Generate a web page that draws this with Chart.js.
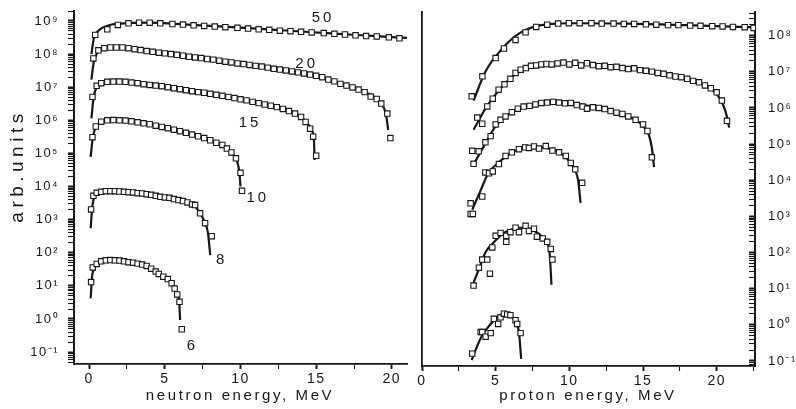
<!DOCTYPE html>
<html>
<head>
<meta charset="utf-8">
<script src="https://cdn.jsdelivr.net/npm/chart.js@4.4.1/dist/chart.umd.min.js"></script>
<style>
  html, body { margin: 0; padding: 0; background: #fff; }
  #wrap { position: relative; width: 796px; height: 409px; overflow: hidden; }
  #left { position: absolute; left: 0; top: 0; }
  #right { position: absolute; left: 415px; top: 0; }
</style>
</head>
<body>
<div id="wrap">
  <canvas id="left" width="420" height="409"></canvas>
  <canvas id="right" width="381" height="409"></canvas>
</div>
<script>
// neutron spectra, [MeV, arb.units] -- fit curves and measured points
const n50Fit = [[0.15,1.0e8],[0.3,2.8e8],[0.5,4.5e8],[0.9,6.3e8],[1.5,7.8e8],[2.5,8.6e8],[4,8.9e8],[6,8.0e8],[8,7.1e8],[10,6.3e8],[12,5.5e8],[14,4.8e8],[16,4.2e8],[18,3.7e8],[20,3.25e8],[21,3.1e8]];
const n50Pts = [[0.4,3.8e8],[1.2,5.6e8],[1.9,7.6e8],[2.6,8.5e8],[3.3,8.9e8],[4.0,8.9e8],[4.7,8.5e8],[5.5,8.1e8],[6.2,7.8e8],[6.9,7.4e8],[7.6,7.1e8],[8.3,6.8e8],[9.0,6.5e8],[9.8,6.2e8],[10.5,5.9e8],[11.2,5.6e8],[11.9,5.4e8],[12.6,5.1e8],[13.3,4.9e8],[14.0,4.7e8],[14.7,4.5e8],[15.5,4.3e8],[16.2,4.1e8],[16.9,3.9e8],[17.6,3.7e8],[18.3,3.5e8],[19.0,3.4e8],[19.8,3.2e8],[20.5,3.0e8]];

const n20Fit = [[0.15,1.7e7],[0.3,5.6e7],[0.5,1.0e8],[0.9,1.4e8],[1.5,1.58e8],[2.5,1.52e8],[4.7,1.1e8],[6.9,7.9e7],[9.1,5.9e7],[11.3,4.2e7],[13.5,3.0e7],[15.7,1.7e7],[16.8,1.2e7],[17.9,8.3e6],[18.8,5.2e6],[19.3,3.2e6],[19.6,1.6e6],[19.76,5.1e5]];
const n20Pts = [[0.28,7.4e7],[0.61,1.3e8],[1.0,1.51e8],[1.4,1.58e8],[1.8,1.58e8],[2.2,1.58e8],[2.6,1.51e8],[3.0,1.41e8],[3.4,1.32e8],[3.8,1.23e8],[4.2,1.17e8],[4.6,1.1e8],[5.0,1.05e8],[5.4,1.0e8],[5.8,9.5e7],[6.2,8.9e7],[6.6,8.3e7],[7.0,7.9e7],[7.4,7.6e7],[7.8,7.1e7],[8.2,6.8e7],[8.6,6.3e7],[9.0,5.9e7],[9.4,5.6e7],[9.8,5.2e7],[10.2,5.0e7],[10.6,4.7e7],[11.0,4.4e7],[11.4,4.2e7],[11.8,3.9e7],[12.2,3.6e7],[12.6,3.4e7],[13.0,3.2e7],[13.4,3.0e7],[13.8,2.8e7],[14.2,2.6e7],[14.6,2.4e7],[15.0,2.2e7],[15.4,2.0e7],[15.8,1.7e7],[16.2,1.5e7],[16.6,1.26e7],[17.0,1.12e7],[17.4,9.8e6],[17.8,8.5e6],[18.2,7.1e6],[18.6,5.2e6],[19.0,4.4e6],[19.3,3.2e6],[19.7,1.6e6],[19.9,2.9e5]];

const n15Fit = [[0.15,1.15e6],[0.3,5.0e6],[0.5,1.0e7],[0.9,1.38e7],[1.6,1.48e7],[2.5,1.45e7],[4.7,1.1e7],[6.9,7.4e6],[9.1,5.1e6],[11.3,3.2e6],[13.0,2.1e6],[13.9,1.35e6],[14.4,8.3e5],[14.7,5.0e5],[14.85,2.5e5],[14.9,6.3e4]];
const n15Pts = [[0.22,5.1e6],[0.5,1.1e7],[0.8,1.32e7],[1.2,1.45e7],[1.6,1.48e7],[2.0,1.48e7],[2.4,1.45e7],[2.8,1.38e7],[3.2,1.32e7],[3.6,1.23e7],[4.0,1.17e7],[4.4,1.12e7],[4.8,1.07e7],[5.2,1.0e7],[5.6,9.3e6],[6.0,8.7e6],[6.4,8.1e6],[6.8,7.6e6],[7.2,7.1e6],[7.6,6.8e6],[8.0,6.3e6],[8.4,5.9e6],[8.8,5.5e6],[9.2,5.1e6],[9.6,4.7e6],[10.0,4.3e6],[10.4,4.0e6],[10.8,3.6e6],[11.2,3.3e6],[11.6,3.0e6],[12.0,2.75e6],[12.4,2.5e6],[12.8,2.2e6],[13.2,1.9e6],[13.6,1.6e6],[14.0,1.26e6],[14.3,8.9e5],[14.6,5.6e5],[14.8,3.2e5],[15.0,8.5e4]];

const n10Fit = [[0.1,7.9e4],[0.25,3.2e5],[0.45,6.3e5],[0.8,9.1e5],[1.4,1.02e6],[2.5,9.8e5],[3.6,8.1e5],[4.7,6.5e5],[5.8,4.9e5],[6.9,3.6e5],[8.0,2.5e5],[8.65,1.9e5],[9.1,1.4e5],[9.5,9.5e4],[9.75,6.3e4],[9.92,2.8e4],[10.0,1.0e4]];
const n10Pts = [[0.22,3.1e5],[0.44,6.5e5],[0.8,9.1e5],[1.2,1.0e6],[1.6,1.02e6],[2.0,1.0e6],[2.4,9.8e5],[2.8,9.3e5],[3.2,8.7e5],[3.6,8.1e5],[4.0,7.6e5],[4.4,6.9e5],[4.8,6.3e5],[5.2,5.8e5],[5.6,5.2e5],[6.0,4.7e5],[6.4,4.2e5],[6.8,3.7e5],[7.2,3.3e5],[7.6,2.9e5],[8.0,2.5e5],[8.4,2.1e5],[8.8,1.8e5],[9.1,1.4e5],[9.4,1.07e5],[9.7,7.1e4],[10.0,2.6e4],[10.1,7.4e3]];

const n8Fit = [[0.1,550],[0.2,2240],[0.35,5000],[0.7,6760],[1.3,7240],[2.5,6900],[3.6,6170],[4.7,4900],[5.8,3720],[6.9,2750],[7.33,1580],[7.66,780],[7.85,400],[8.0,85]];
const n8Pts = [[0.13,2040],[0.28,5250],[0.5,6460],[0.8,6920],[1.1,7240],[1.4,7240],[1.7,7240],[2.0,7080],[2.3,6920],[2.6,6760],[2.9,6610],[3.2,6310],[3.5,6170],[3.8,5890],[4.1,5620],[4.4,5250],[4.7,4900],[5.0,4680],[5.3,4570],[5.6,4170],[5.9,3890],[6.2,3630],[6.5,3310],[6.8,2880],[7.0,2750],[7.33,1550],[7.66,780],[8.1,316]];

const n6Fit = [[0.1,4.2],[0.2,20],[0.35,35],[0.7,52],[1.4,60],[2.5,54],[3.6,43],[4.25,30],[4.7,21],[5.13,17],[5.46,12],[5.68,8.3],[5.83,5.5],[5.95,3.2],[6.01,0.93]];
const n6Pts = [[0.13,13],[0.24,36],[0.5,46],[0.8,55],[1.1,59],[1.4,60],[1.7,59],[2.0,58],[2.3,55],[2.6,52],[2.9,50],[3.2,47],[3.5,44],[3.8,40],[4.1,33],[4.4,27],[4.6,23],[4.9,19],[5.2,16],[5.45,12],[5.65,8.3],[5.82,5.5],[5.97,3.3],[6.12,0.49]];

// proton spectra
const p50Fit = [[3.5,1.6e6],[4.3,1.0e7],[5.45,4.4e7],[6.6,1.15e8],[7.7,1.8e8],[8.8,2.1e8],[10,2.2e8],[14,2.15e8],[18,1.95e8],[22.6,1.7e8]];
const p50Pts = [[3.37,2.1e6],[4.1,7.5e6],[5.0,2.4e7],[5.56,4.4e7],[6.35,7.6e7],[7.03,1.23e8],[7.75,1.74e8],[8.5,2.0e8],[9.24,2.15e8],[9.97,2.2e8],[10.7,2.2e8],[11.5,2.2e8],[12.2,2.15e8],[13.0,2.15e8],[13.7,2.1e8],[14.4,2.1e8],[15.2,2.05e8],[15.9,2.0e8],[16.7,1.95e8],[17.4,1.95e8],[18.2,1.9e8],[18.9,1.87e8],[19.7,1.82e8],[20.4,1.79e8],[21.1,1.74e8],[21.9,1.71e8],[22.5,1.63e8]];

const p20Fit = [[3.5,2.5e5],[4.4,1.1e6],[5.2,3.0e6],[6.3,8.3e6],[7.5,1.37e7],[9.0,1.7e7],[10.5,1.77e7],[12.5,1.5e7],[14.5,1.22e7],[16.5,8.7e6],[18.5,5.3e6],[19.6,3.4e6],[20.2,1.87e6],[20.6,8.0e5],[20.85,2.85e5]];
const p20Pts = [[3.75,5.4e5],[4.09,3.65e5],[4.43,1.1e6],[4.8,1.8e6],[5.2,3.2e6],[5.6,4.5e6],[6.0,6.4e6],[6.35,9.3e6],[6.7,1.14e7],[7.05,1.27e7],[7.4,1.46e7],[7.75,1.5e7],[8.1,1.6e7],[8.45,1.64e7],[8.8,1.6e7],[9.2,1.7e7],[9.6,1.8e7],[10.0,1.6e7],[10.4,1.77e7],[10.8,1.5e7],[11.2,1.72e7],[11.6,1.53e7],[12.0,1.43e7],[12.4,1.46e7],[12.8,1.34e7],[13.2,1.37e7],[13.6,1.27e7],[14.0,1.19e7],[14.4,1.25e7],[14.8,1.11e7],[15.2,1.06e7],[15.6,1.01e7],[16.0,9.3e6],[16.4,8.8e6],[16.8,8.0e6],[17.2,7.4e6],[17.6,7.1e6],[18.0,6.4e6],[18.4,5.6e6],[18.8,5.1e6],[19.2,4.2e6],[19.6,3.5e6],[20.0,2.7e6],[20.35,1.6e6],[20.7,4.4e5]];

const p15Fit = [[3.45,2.5e4],[4.2,8.8e4],[5.0,3.15e5],[5.7,5.8e5],[6.6,9.5e5],[7.9,1.31e6],[9.3,1.44e6],[10.7,1.25e6],[12.0,1.0e6],[13.4,7.3e5],[14.5,4.65e5],[15.0,3.15e5],[15.4,1.77e5],[15.6,7.9e4],[15.75,2.3e4]];
const p15Pts = [[3.41,6.5e4],[3.5,2.85e4],[3.85,6.3e4],[4.3,1.12e5],[4.66,1.66e5],[5.0,3.5e5],[5.33,4.7e5],[5.67,5.8e5],[6.1,7.6e5],[6.5,9.5e5],[6.9,1.09e6],[7.3,1.14e6],[7.7,1.25e6],[8.1,1.37e6],[8.5,1.41e6],[8.9,1.47e6],[9.3,1.41e6],[9.7,1.34e6],[10.1,1.37e6],[10.5,1.2e6],[10.9,1.09e6],[11.2,9.5e5],[11.6,1.04e6],[12.0,1.0e6],[12.4,9.3e5],[12.8,8.2e5],[13.2,7.4e5],[13.6,6.8e5],[14.0,5.8e5],[14.5,4.7e5],[15.0,3.5e5],[15.3,2.3e5],[15.6,4.3e4]];

const p10Fit = [[3.41,1530],[4.0,5500],[4.5,1.56e4],[5.2,3.1e4],[6.0,5.5e4],[7.0,7.8e4],[8.0,8.1e4],[9.0,6.6e4],[9.8,4.1e4],[10.3,2.2e4],[10.6,9800],[10.76,2380]];
const p10Pts = [[3.3,1170],[3.45,1170],[3.3,2300],[4.09,3550],[4.3,1.64e4],[4.55,1.56e4],[4.8,1.75e4],[5.22,2.8e4],[5.67,4.7e4],[6.1,5.9e4],[6.58,7.2e4],[7.0,8.1e4],[7.26,7.8e4],[7.6,8.6e4],[7.94,7.5e4],[8.4,8.8e4],[8.85,6.6e4],[9.3,5.9e4],[9.76,4.7e4],[10.1,3.0e4],[10.4,2.0e4],[10.87,8500]];

const p8Fit = [[3.41,12],[3.9,38],[4.32,103],[4.8,178],[5.45,325],[6.0,425],[6.58,485],[7.1,480],[7.6,400],[8.1,290],[8.4,215],[8.65,108],[8.79,12.8]];
const p8Pts = [[3.5,12.2],[3.86,38],[4.09,64],[4.43,64],[4.61,26],[4.77,138],[5.0,290],[5.33,350],[5.72,198],[5.72,290],[6.0,365],[6.35,485],[6.58,365],[7.03,550],[7.26,395],[7.6,455],[7.8,275],[8.2,245],[8.5,198],[8.74,126],[8.85,64]];

const p6Fit = [[3.37,0.105],[3.7,0.235],[4.09,0.515],[4.5,0.88],[4.77,1.19],[5.2,1.69],[5.56,2.03],[5.85,1.98],[6.12,1.65],[6.4,1.04],[6.58,0.63],[6.73,0.115]];
const p6Pts = [[3.41,0.16],[3.98,0.63],[4.09,0.63],[4.32,0.47],[4.66,0.59],[4.88,1.47],[5.17,1.06],[5.33,1.62],[5.56,2.03],[5.78,1.94],[6.0,1.85],[6.35,1.34],[6.46,1.06],[6.69,0.59]];

// labels of the neutron curves (incident energy, MeV) and where they sit
const curveNames = ['50', '20', '15', '10', '8', '6'];
const curveNameX = [15.45, 14.37, 10.63, 11.14, 8.76, 6.82];
const curveNameY = [1.23e9, 5.2e7, 8.1e5, 4.6e3, 63, 0.155];

const INK = '#161616';
const FONT = '"Liberation Sans", Arial, Helvetica, sans-serif';
Chart.defaults.font.family = FONT;
Chart.defaults.color = INK;

const SUP = {'-': '\u207B', '0': '\u2070', '1': '\u00B9', '2': '\u00B2', '3': '\u00B3', '4': '\u2074', '5': '\u2075', '6': '\u2076', '7': '\u2077', '8': '\u2078', '9': '\u2079'};

function decadeLabel(v) {
  const e = Math.round(Math.log10(v));
  if (Math.abs(v / Math.pow(10, e) - 1) > 1e-6) return '';
  return '10' + String(e).split('').map(c => SUP[c]).join('');
}

function logTicks(scale) {
  const list = [];
  for (let e = -2; e <= 9; e++) {
    for (let k = 1; k <= 9; k++) {
      const v = k * Math.pow(10, e);
      if (v >= scale.min && v <= scale.max) list.push({ value: v, major: k === 1 });
    }
  }
  scale.ticks = list;
}

function energyTicks(scale) {
  const list = [];
  for (let v = 0; v <= scale.max + 1e-9; v += 2.5) list.push({ value: v, major: v % 5 === 0 });
  scale.ticks = list;
}

function fitSet(pairs) {
  return {
    data: pairs.map(p => ({ x: p[0], y: p[1] })),
    xAxisID: 'x',
    yAxisID: 'y',
    showLine: true,
    pointRadius: 0,
    borderColor: INK,
    borderWidth: 2.2,
    cubicInterpolationMode: 'monotone',
    order: 2
  };
}

function dotSet(pairs) {
  return {
    data: pairs.map(p => ({ x: p[0], y: p[1] })),
    xAxisID: 'x',
    yAxisID: 'y',
    showLine: false,
    pointStyle: 'rect',
    pointRadius: 3.8,
    pointBackgroundColor: '#fff',
    pointBorderColor: INK,
    pointBorderWidth: 1.1,
    order: 1
  };
}

const letterSpace = {
  id: 'letterSpace',
  beforeDraw(chart) { chart.ctx.letterSpacing = '1.5px'; }
};

function textAt(ctx, str, x, y, size, spacing, angle) {
  ctx.save();
  ctx.letterSpacing = spacing + 'px';
  ctx.font = size + 'px ' + FONT;
  ctx.fillStyle = INK;
  ctx.textAlign = 'center';
  ctx.textBaseline = 'middle';
  ctx.translate(x, y);
  if (angle) ctx.rotate(angle);
  ctx.fillText(str, 0, 0);
  ctx.restore();
}

const leftTexts = {
  id: 'leftTexts',
  afterDraw(chart) {
    const { ctx, scales } = chart;
    textAt(ctx, 'arb.units', 18, 166, 19, 4.5, -Math.PI / 2);
    textAt(ctx, 'neutron energy, MeV', 240, 396, 15, 2.6, 0);
    curveNames.forEach((name, i) => {
      textAt(ctx, name, scales.x.getPixelForValue(curveNameX[i]), scales.y.getPixelForValue(curveNameY[i]), 15, 3, 0);
    });
  }
};

const rightTexts = {
  id: 'rightTexts',
  afterDraw(chart) {
    textAt(chart.ctx, 'proton energy, MeV', 173, 396, 15, 2.6, 0);
  }
};

const tickGrid = (len) => ({
  drawOnChartArea: false,
  drawTicks: true,
  tickLength: len,
  tickColor: INK,
  tickWidth: c => (c.tick && c.tick.major ? 2 : 1.1)
});

// fixed box sizes, and no extra label padding pushing the plot area around
const fixWidth = w => s => { s.width = w; s.paddingTop = 0; s.paddingBottom = 0; };
const fixHeight = h => s => { s.height = h; s.paddingLeft = 0; s.paddingRight = 0; };

const xAxis = (min, max, h) => ({
  type: 'linear',
  position: 'bottom',
  min: min,
  max: max,
  afterBuildTicks: energyTicks,
  afterFit: fixHeight(h),
  border: { display: true, color: INK, width: 1.8 },
  grid: tickGrid(5),
  ticks: {
    autoSkip: false,
    maxRotation: 0,
    padding: 2,
    color: INK,
    font: { size: 14 },
    callback: v => (v % 5 === 0 ? String(v) : '')
  }
});

new Chart(document.getElementById('left'), {
  type: 'scatter',
  data: {
    datasets: [
      fitSet(n50Fit), fitSet(n20Fit), fitSet(n15Fit), fitSet(n10Fit), fitSet(n8Fit), fitSet(n6Fit),
      dotSet(n50Pts), dotSet(n20Pts), dotSet(n15Pts), dotSet(n10Pts), dotSet(n8Pts), dotSet(n6Pts)
    ]
  },
  options: {
    responsive: false,
    animation: false,
    layout: { padding: { left: 0, top: 11, right: 13, bottom: 0 } },
    plugins: { legend: { display: false }, tooltip: { enabled: false } },
    scales: {
      x: xAxis(-1, 21, 45),
      y: {
        type: 'logarithmic',
        position: 'left',
        min: 0.0437,
        max: 2.0e9,
        afterBuildTicks: logTicks,
        afterFit: fixWidth(74),
        border: { display: true, color: INK, width: 2 },
        grid: tickGrid(6),
        ticks: { autoSkip: false, padding: 9, color: INK, font: { size: 13 }, callback: decadeLabel }
      }
    }
  },
  plugins: [letterSpace, leftTexts]
});

new Chart(document.getElementById('right'), {
  type: 'scatter',
  data: {
    datasets: [
      fitSet(p50Fit), fitSet(p20Fit), fitSet(p15Fit), fitSet(p10Fit), fitSet(p8Fit), fitSet(p6Fit),
      dotSet(p50Pts), dotSet(p20Pts), dotSet(p15Pts), dotSet(p10Pts), dotSet(p8Pts), dotSet(p6Pts)
    ]
  },
  options: {
    responsive: false,
    animation: false,
    layout: { padding: { left: 7, top: 12, right: 0, bottom: 0 } },
    plugins: { legend: { display: false }, tooltip: { enabled: false } },
    scales: {
      x: xAxis(0, 22.6, 43),
      yl: {
        type: 'linear',
        position: 'left',
        min: 0,
        max: 1,
        afterFit: fixWidth(0),
        border: { display: true, color: INK, width: 1.8 },
        grid: { drawOnChartArea: false, drawTicks: false },
        ticks: { display: false }
      },
      y: {
        type: 'logarithmic',
        position: 'right',
        min: 0.0727,
        max: 4.5e8,
        afterBuildTicks: logTicks,
        afterFit: fixWidth(41),
        border: { display: true, color: INK, width: 2 },
        grid: tickGrid(-6),
        ticks: { autoSkip: false, padding: 19, color: INK, font: { size: 13 }, callback: decadeLabel }
      }
    }
  },
  plugins: [letterSpace, rightTexts]
});
</script>
</body>
</html>
